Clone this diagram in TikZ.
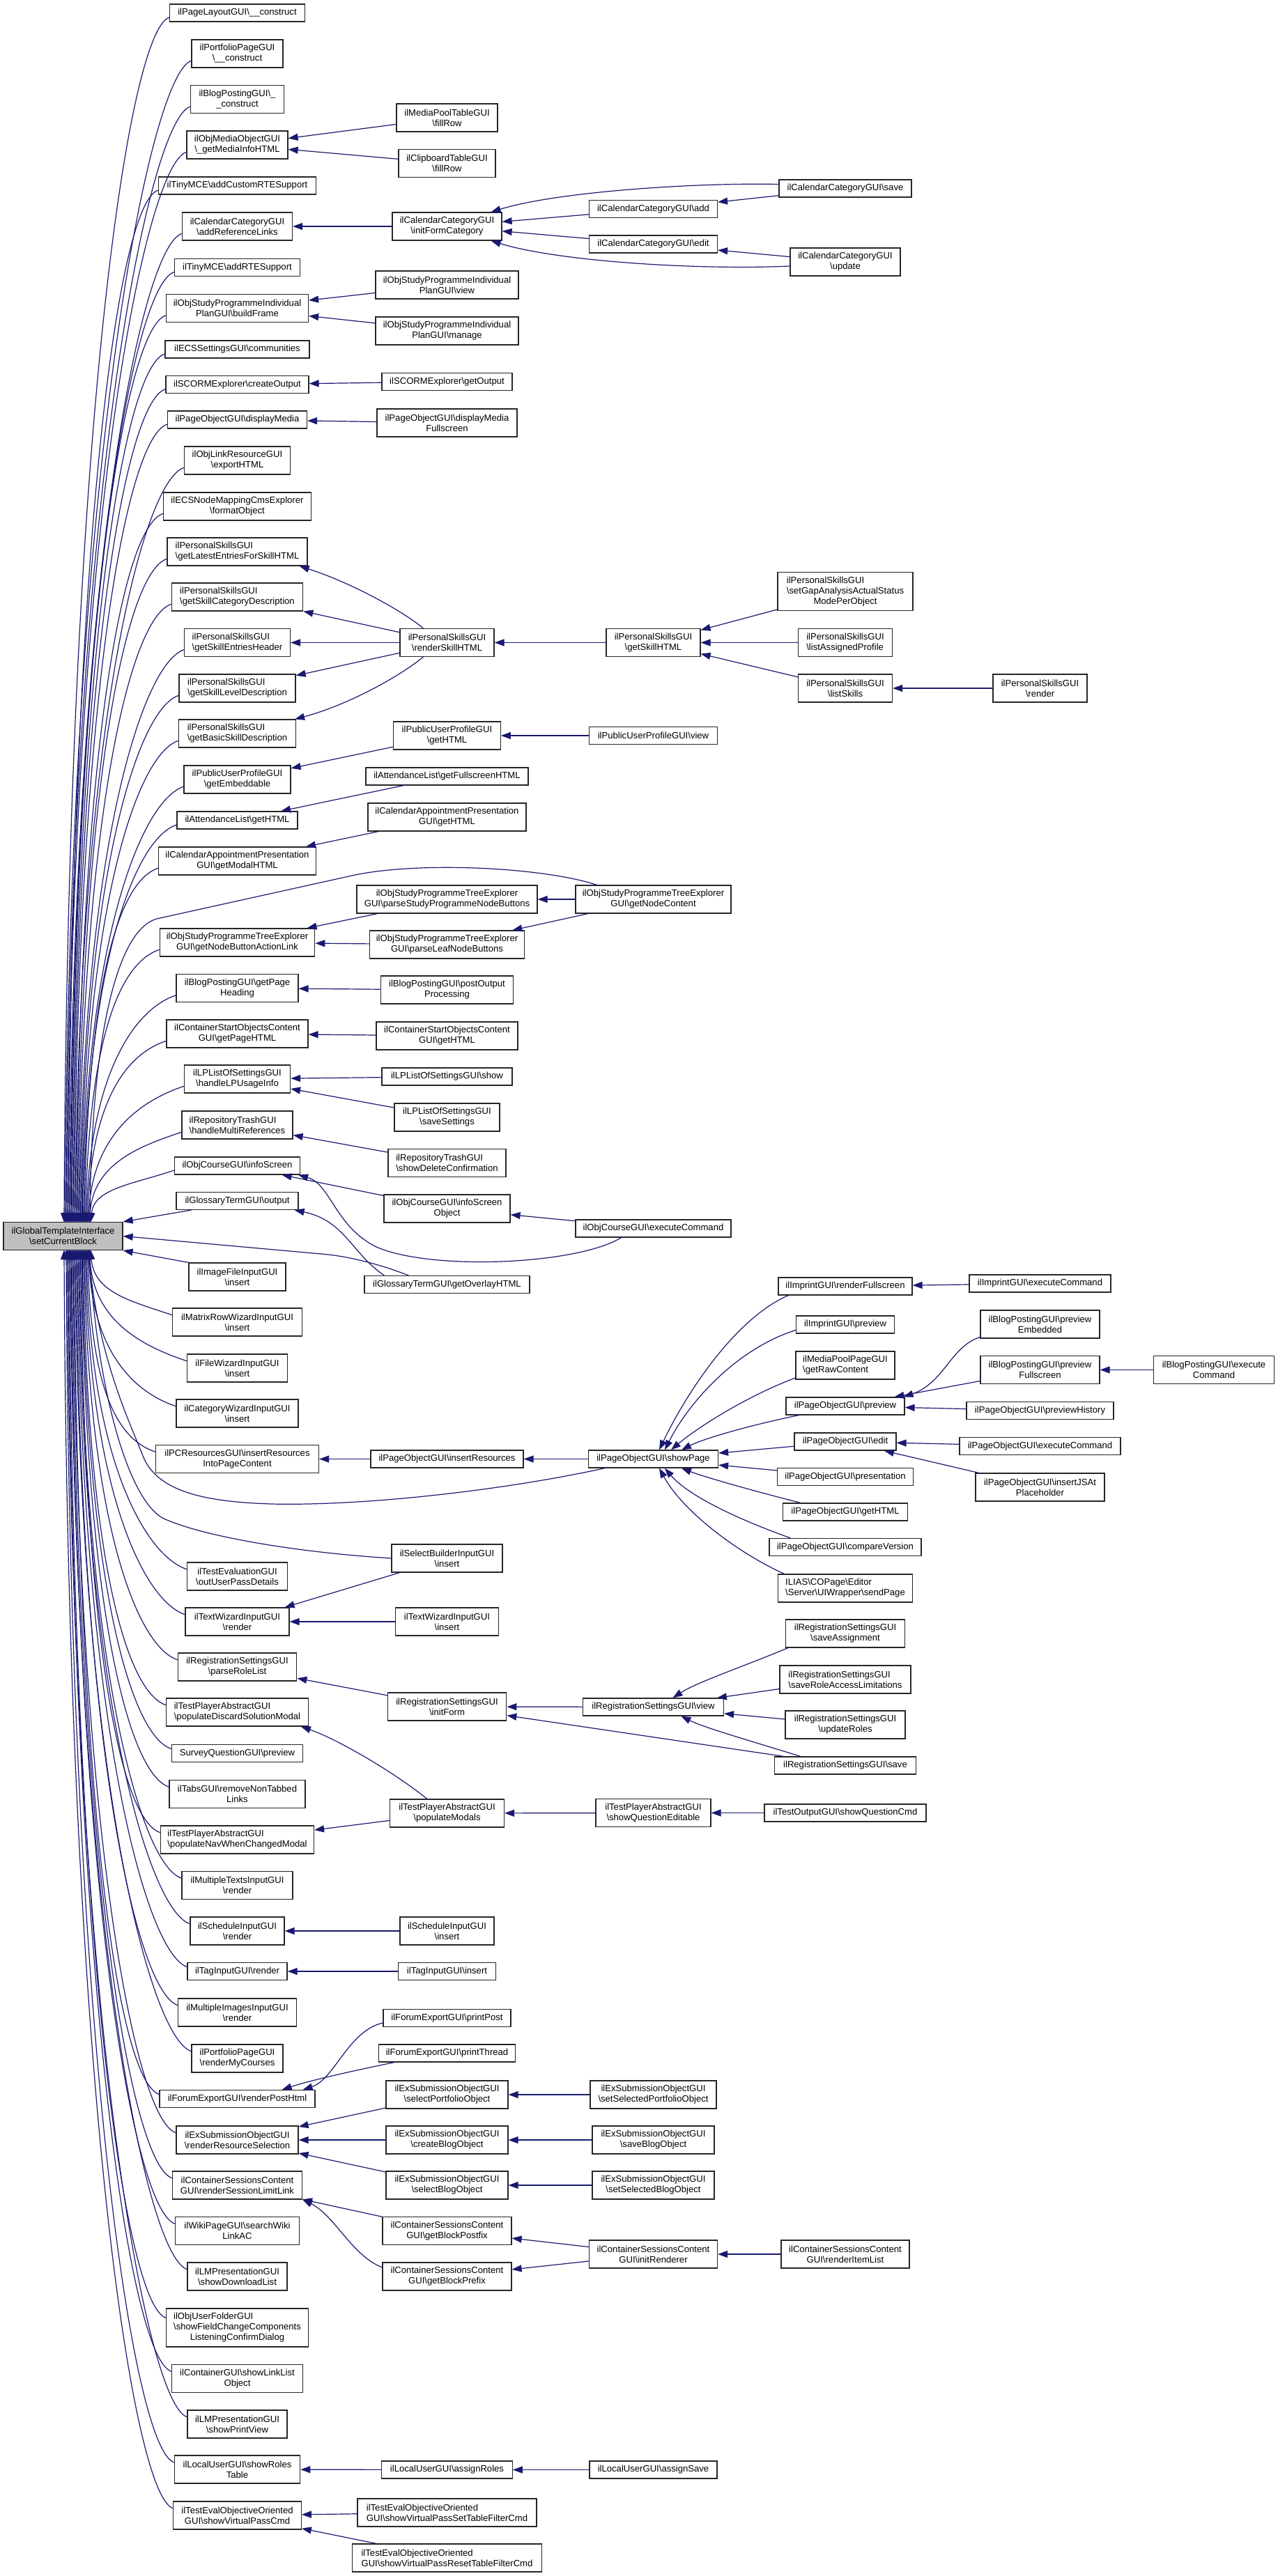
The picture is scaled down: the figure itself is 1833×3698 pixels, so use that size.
\documentclass[tikz,border=0pt]{standalone}
\usepackage{fontspec}
\setmainfont{Liberation Sans}
\usetikzlibrary{arrows.meta,calc}
\newcommand{\bs}{\textbackslash}
\newcommand{\fnfont}{\fontsize{13.1}{15}\selectfont}
\begin{document}
\begin{tikzpicture}[x=1pt,y=-1pt,
  fn/.style={draw=black!85, fill=white, line width=1.2pt, inner sep=1pt, font=\fnfont, align=center, minimum height=40},
  one/.style={fn, minimum height=25},
  three/.style={fn, minimum height=55},
  lal/.style={align=left},
  calls/.style={draw=edgeBlue, line width=1.2pt, -{Triangle[length=14pt,width=10pt]}}]
% Colors define
\definecolor{edgeBlue}{HTML}{191970}
\definecolor{rootGray}{HTML}{BFBFBF}

\useasboundingbox (0,0) rectangle (1833,3698);

% The function itself
\node[fn, fill=rootGray, minimum width=171] (root) at (90.5,1774.5) {ilGlobalTemplateInterface\\\bs setCurrentBlock};

% Direct callers
\node[one, minimum width=194] (plc) at (340.5,18.5) {ilPageLayoutGUI\bs\_\_construct};
\node[fn, minimum width=131] (ppc) at (340.5,77) {ilPortfolioPageGUI\\\bs\_\_construct};
\node[fn, minimum width=134] (bpc) at (340.5,142.75) {ilBlogPostingGUI\bs\_\\\_construct};
\node[fn, minimum width=145] (mo) at (340.5,208) {ilObjMediaObjectGUI\\\bs\_getMediaInfoHTML};
\node[one, minimum width=226] (tcr) at (340.5,266.5) {ilTinyMCE\bs addCustomRTESupport};
\node[fn, minimum width=158] (arl) at (340.5,325) {ilCalendarCategoryGUI\\\bs addReferenceLinks};
\node[one, minimum width=180] (trs) at (340.5,384) {ilTinyMCE\bs addRTESupport};
\node[fn, minimum width=204] (bf) at (340.5,442.5) {ilObjStudyProgrammeIndividual\\PlanGUI\bs buildFrame};
\node[one, minimum width=207] (ecs) at (340.5,501.5) {ilECSSettingsGUI\bs communities};
\node[one, minimum width=205] (sco) at (340.5,552) {ilSCORMExplorer\bs createOutput};
\node[one, minimum width=200] (dm) at (340.5,602.5) {ilPageObjectGUI\bs displayMedia};
\node[fn, minimum width=152] (lr) at (340.5,661) {ilObjLinkResourceGUI\\\bs exportHTML};
\node[fn, minimum width=212] (fo) at (340.5,727) {ilECSNodeMappingCmsExplorer\\\bs formatObject};
\node[fn, lal, minimum width=201] (gl) at (340.5,792) {ilPersonalSkillsGUI\\\bs getLatestEntriesForSkillHTML};
\node[fn, lal, minimum width=188.5] (scd) at (340.5,857) {ilPersonalSkillsGUI\\\bs getSkillCategoryDescription};
\node[fn, lal, minimum width=152] (seh) at (340.5,922.5) {ilPersonalSkillsGUI\\\bs getSkillEntriesHeader};
\node[fn, lal, minimum width=167] (sld) at (340.5,988) {ilPersonalSkillsGUI\\\bs getSkillLevelDescription};
\node[fn, lal, minimum width=168] (bsd) at (340.5,1053) {ilPersonalSkillsGUI\\\bs getBasicSkillDescription};
\node[fn, minimum width=153] (emb) at (340.5,1119) {ilPublicUserProfileGUI\\\bs getEmbeddable};
\node[one, minimum width=173] (alh) at (340.5,1177.5) {ilAttendanceList\bs getHTML};
\node[fn, minimum width=226] (gmh) at (340.5,1236) {ilCalendarAppointmentPresentation\\GUI\bs getModalHTML};
\node[fn, minimum width=222.5] (nba) at (340.5,1353) {ilObjStudyProgrammeTreeExplorer\\GUI\bs getNodeButtonActionLink};
\node[fn, minimum width=175] (gph) at (340.5,1418.5) {ilBlogPostingGUI\bs getPage\\Heading};
\node[fn, minimum width=203] (sph) at (340.5,1484) {ilContainerStartObjectsContent\\GUI\bs getPageHTML};
\node[fn, minimum width=152] (lpu) at (340.5,1549) {ilLPListOfSettingsGUI\\\bs handleLPUsageInfo};
\node[fn, lal, minimum width=159] (hmr) at (340.5,1615) {ilRepositoryTrashGUI\\\bs handleMultiReferences};
\node[one, minimum width=180] (isc) at (340.5,1673.5) {ilObjCourseGUI\bs infoScreen};
\node[one, minimum width=175] (gto) at (340.5,1724) {ilGlossaryTermGUI\bs output};
\node[fn, minimum width=139] (ifi) at (340.5,1833) {ilImageFileInputGUI\\\bs insert};
\node[fn, minimum width=186] (mrw) at (340.5,1898) {ilMatrixRowWizardInputGUI\\\bs insert};
\node[fn, minimum width=144] (fwi) at (340.5,1964) {ilFileWizardInputGUI\\\bs insert};
\node[fn, minimum width=175] (cwi) at (340.5,2029) {ilCategoryWizardInputGUI\\\bs insert};
\node[fn, minimum width=234] (pcr) at (340.5,2094.5) {ilPCResourcesGUI\bs insertResources\\IntoPageContent};
\node[fn, minimum width=144] (oup) at (340.5,2263) {ilTestEvaluationGUI\\\bs outUserPassDetails};
\node[fn, minimum width=149] (twr) at (340.5,2328) {ilTextWizardInputGUI\\\bs render};
\node[fn, minimum width=170.5] (prl) at (340.5,2393) {ilRegistrationSettingsGUI\\\bs parseRoleList};
\node[fn, lal, minimum width=203.5] (pdsm) at (340.5,2458) {ilTestPlayerAbstractGUI\\\bs populateDiscardSolutionModal};
\node[one, minimum width=188.5] (sqp) at (340.5,2517) {SurveyQuestionGUI\bs preview};
\node[fn, minimum width=195] (rnt) at (340.5,2575.5) {ilTabsGUI\bs removeNonTabbed\\Links};
\node[fn, lal, minimum width=220] (pnw) at (340.5,2641) {ilTestPlayerAbstractGUI\\\bs populateNavWhenChangedModal};
\node[fn, minimum width=159] (mtr) at (340.5,2706.5) {ilMultipleTextsInputGUI\\\bs render};
\node[fn, minimum width=135] (sir) at (340.5,2772) {ilScheduleInputGUI\\\bs render};
\node[one, minimum width=143] (tir) at (340.5,2830) {ilTagInputGUI\bs render};
\node[fn, minimum width=169.5] (mir) at (340.5,2889) {ilMultipleImagesInputGUI\\\bs render};
\node[fn, minimum width=131] (rmc) at (340.5,2955) {ilPortfolioPageGUI\\\bs renderMyCourses};
\node[one, minimum width=223] (rph) at (340.5,3013) {ilForumExportGUI\bs renderPostHtml};
\node[fn, minimum width=175] (rrs) at (340.5,3072) {ilExSubmissionObjectGUI\\\bs renderResourceSelection};
\node[fn, minimum width=186] (rsl) at (340.5,3137) {ilContainerSessionsContent\\GUI\bs renderSessionLimitLink};
\node[fn, minimum width=178] (swl) at (340.5,3202.5) {ilWikiPageGUI\bs searchWiki\\LinkAC};
\node[fn, minimum width=143] (sdl) at (340.5,3268) {ilLMPresentationGUI\\\bs showDownloadList};
\node[three, lal, minimum width=203.5] (sfc) at (340.5,3341.5) {ilObjUserFolderGUI\\\bs showFieldChangeComponents\\\hspace*{\fill}ListeningConfirmDialog\hspace*{\fill}};
\node[fn, minimum width=188.5] (sll) at (340.5,3414.5) {ilContainerGUI\bs showLinkList\\Object};
\node[fn, minimum width=143] (lpv) at (340.5,3480) {ilLMPresentationGUI\\\bs showPrintView};
\node[fn, minimum width=180.5] (srt) at (340.5,3545) {ilLocalUserGUI\bs showRoles\\Table};
\node[fn, minimum width=183.5] (svp) at (340.5,3611) {ilTestEvalObjectiveOriented\\GUI\bs showVirtualPassCmd};

% Callers further out
\node[fn, minimum width=145] (mpf) at (641.5,169) {ilMediaPoolTableGUI\\\bs fillRow};
\node[fn, minimum width=139] (cbf) at (641.5,234.5) {ilClipboardTableGUI\\\bs fillRow};
\node[fn, minimum width=157] (ifc) at (641.5,325) {ilCalendarCategoryGUI\\\bs initFormCategory};
\node[one, minimum width=184] (cca) at (937.5,300) {ilCalendarCategoryGUI\bs add};
\node[one, minimum width=184] (cce) at (937.5,350.5) {ilCalendarCategoryGUI\bs edit};
\node[one, minimum width=190] (ccs) at (1213,270.5) {ilCalendarCategoryGUI\bs save};
\node[fn, minimum width=158] (ccu) at (1213,376) {ilCalendarCategoryGUI\\\bs update};
\node[fn, minimum width=205] (ipv) at (641.5,409) {ilObjStudyProgrammeIndividual\\PlanGUI\bs view};
\node[fn, minimum width=205] (ipm) at (641.5,475) {ilObjStudyProgrammeIndividual\\PlanGUI\bs manage};
\node[one, minimum width=187] (sgo) at (641.5,548) {ilSCORMExplorer\bs getOutput};
\node[fn, minimum width=201] (dmf) at (641.5,607) {ilPageObjectGUI\bs displayMedia\\Fullscreen};
\node[fn, minimum width=135] (rsh) at (641.5,922.5) {ilPersonalSkillsGUI\\\bs renderSkillHTML};
\node[fn, minimum width=135] (gsh) at (937.5,922.5) {ilPersonalSkillsGUI\\\bs getSkillHTML};
\node[three, lal, minimum width=194] (sga) at (1213,849) {ilPersonalSkillsGUI\\\bs setGapAnalysisActualStatus\\\hspace*{\fill}ModePerObject\hspace*{\fill}};
\node[fn, lal, minimum width=135] (lap) at (1213,922.5) {ilPersonalSkillsGUI\\\bs listAssignedProfile};
\node[fn, minimum width=135] (lsk) at (1213,988) {ilPersonalSkillsGUI\\\bs listSkills};
\node[fn, minimum width=135] (psr) at (1492.5,988) {ilPersonalSkillsGUI\\\bs render};
\node[fn, minimum width=153.5] (pgh) at (641.5,1056) {ilPublicUserProfileGUI\\\bs getHTML};
\node[one, minimum width=184] (puv) at (937.5,1056) {ilPublicUserProfileGUI\bs view};
\node[one, minimum width=233] (afh) at (641.5,1114.5) {ilAttendanceList\bs getFullscreenHTML};
\node[fn, minimum width=227] (cgh) at (641.5,1173) {ilCalendarAppointmentPresentation\\GUI\bs getHTML};
\node[fn, minimum width=259] (psb) at (641.5,1291) {ilObjStudyProgrammeTreeExplorer\\GUI\bs parseStudyProgrammeNodeButtons};
\node[fn, minimum width=222] (plb) at (641.5,1356) {ilObjStudyProgrammeTreeExplorer\\GUI\bs parseLeafNodeButtons};
\node[fn, minimum width=223] (gnc) at (937.5,1291) {ilObjStudyProgrammeTreeExplorer\\GUI\bs getNodeContent};
\node[fn, minimum width=190.5] (pop) at (641.5,1421) {ilBlogPostingGUI\bs postOutput\\Processing};
\node[fn, minimum width=203] (csh) at (641.5,1487) {ilContainerStartObjectsContent\\GUI\bs getHTML};
\node[one, minimum width=187] (lps) at (641.5,1545.5) {ilLPListOfSettingsGUI\bs show};
\node[fn, minimum width=151] (lss) at (641.5,1604) {ilLPListOfSettingsGUI\\\bs saveSettings};
\node[fn, lal, minimum width=169] (sdc) at (641.5,1669.5) {ilRepositoryTrashGUI\\\bs showDeleteConfirmation};
\node[fn, minimum width=181] (iso) at (641.5,1735) {ilObjCourseGUI\bs infoScreen\\Object};
\node[one, minimum width=223] (oce) at (937.5,1763.5) {ilObjCourseGUI\bs executeCommand};
\node[one, minimum width=237] (goh) at (641.5,1844) {ilGlossaryTermGUI\bs getOverlayHTML};

% Page object group
\node[one, minimum width=219] (pir) at (641.5,2094.5) {ilPageObjectGUI\bs insertResources};
\node[one, minimum width=186] (psp) at (937.5,2094.5) {ilPageObjectGUI\bs showPage};
\node[one, minimum width=192] (irf) at (1213,1846.5) {ilImprintGUI\bs renderFullscreen};
\node[one, minimum width=203] (iec) at (1492.5,1842.5) {ilImprintGUI\bs executeCommand};
\node[one, minimum width=141] (ipr) at (1213,1901.5) {ilImprintGUI\bs preview};
\node[fn, lal, minimum width=142] (mrc) at (1213,1960) {ilMediaPoolPageGUI\\\bs getRawContent};
\node[fn, minimum width=171] (bpe) at (1492.5,1901) {ilBlogPostingGUI\bs preview\\Embedded};
\node[fn, minimum width=171] (bpf) at (1492.5,1966.5) {ilBlogPostingGUI\bs preview\\Fullscreen};
\node[fn, minimum width=172.5] (bec) at (1742,1966.5) {ilBlogPostingGUI\bs execute\\Command};
\node[one, minimum width=170] (pov) at (1213,2018.5) {ilPageObjectGUI\bs preview};
\node[one, minimum width=211] (poh) at (1492.5,2025) {ilPageObjectGUI\bs previewHistory};
\node[one, minimum width=146] (poe) at (1213,2069.5) {ilPageObjectGUI\bs edit};
\node[one, minimum width=231] (pec) at (1492.5,2076) {ilPageObjectGUI\bs executeCommand};
\node[fn, minimum width=185] (pjs) at (1492.5,2135) {ilPageObjectGUI\bs insertJSAt\\Placeholder};
\node[one, minimum width=195] (pps) at (1213,2120) {ilPageObjectGUI\bs presentation};
\node[one, minimum width=179] (pgt) at (1213,2170.5) {ilPageObjectGUI\bs getHTML};
\node[one, minimum width=218] (pcv) at (1213,2221) {ilPageObjectGUI\bs compareVersion};
\node[fn, lal, minimum width=193.5] (usp) at (1213,2280) {ILIAS\bs COPage\bs Editor\\\bs Server\bs UIWrapper\bs sendPage};

% Lower groups
\node[fn, minimum width=159] (sbi) at (641.5,2237) {ilSelectBuilderInputGUI\\\bs insert};
\node[fn, minimum width=148] (twi) at (641.5,2328) {ilTextWizardInputGUI\\\bs insert};
\node[fn, minimum width=170.5] (rif) at (641.5,2450) {ilRegistrationSettingsGUI\\\bs initForm};
\node[one, minimum width=202] (rsv) at (937.5,2450.5) {ilRegistrationSettingsGUI\bs view};
\node[fn, minimum width=171] (rsa) at (1213,2345) {ilRegistrationSettingsGUI\\\bs saveAssignment};
\node[fn, lal, minimum width=188] (rra) at (1213,2411) {ilRegistrationSettingsGUI\\\bs saveRoleAccessLimitations};
\node[fn, minimum width=172] (rur) at (1213,2476) {ilRegistrationSettingsGUI\\\bs updateRoles};
\node[one, minimum width=203] (rss) at (1213,2534.5) {ilRegistrationSettingsGUI\bs save};
\node[fn, minimum width=164] (tpm) at (641.5,2603) {ilTestPlayerAbstractGUI\\\bs populateModals};
\node[fn, minimum width=165] (tqe) at (937.5,2602.5) {ilTestPlayerAbstractGUI\\\bs showQuestionEditable};
\node[one, minimum width=232] (tqc) at (1213,2602.5) {ilTestOutputGUI\bs showQuestionCmd};
\node[fn, minimum width=135] (sii) at (641.5,2772) {ilScheduleInputGUI\\\bs insert};
\node[one, minimum width=139.5] (tii) at (641.5,2830) {ilTagInputGUI\bs insert};
\node[one, minimum width=183] (fpp) at (641.5,2897) {ilForumExportGUI\bs printPost};
\node[one, minimum width=196] (fpt) at (641.5,2947.5) {ilForumExportGUI\bs printThread};
\node[fn, minimum width=175] (spo) at (641.5,3007) {ilExSubmissionObjectGUI\\\bs selectPortfolioObject};
\node[fn, minimum width=181] (ssp) at (937.5,3007) {ilExSubmissionObjectGUI\\\bs setSelectedPortfolioObject};
\node[fn, minimum width=175] (cbo) at (641.5,3072) {ilExSubmissionObjectGUI\\\bs createBlogObject};
\node[fn, minimum width=175] (sbo) at (937.5,3072) {ilExSubmissionObjectGUI\\\bs saveBlogObject};
\node[fn, minimum width=175] (sbl) at (641.5,3137) {ilExSubmissionObjectGUI\\\bs selectBlogObject};
\node[fn, minimum width=175] (ssb) at (937.5,3137) {ilExSubmissionObjectGUI\\\bs setSelectedBlogObject};
\node[fn, minimum width=185] (gbp) at (641.5,3202.5) {ilContainerSessionsContent\\GUI\bs getBlockPostfix};
\node[fn, minimum width=185] (gbx) at (641.5,3268) {ilContainerSessionsContent\\GUI\bs getBlockPrefix};
\node[fn, minimum width=184] (cir) at (937.5,3236) {ilContainerSessionsContent\\GUI\bs initRenderer};
\node[fn, minimum width=184] (ril) at (1213,3236) {ilContainerSessionsContent\\GUI\bs renderItemList};
\node[one, minimum width=187.5] (lar) at (641.5,3545.5) {ilLocalUserGUI\bs assignRoles};
\node[one, minimum width=183] (las) at (937.5,3545.5) {ilLocalUserGUI\bs assignSave};
\node[fn, lal, minimum width=257] (vps) at (641.5,3607) {ilTestEvalObjectiveOriented\\GUI\bs showVirtualPassSetTableFilterCmd};
\node[fn, lal, minimum width=272.6] (vpr) at (641.5,3672) {ilTestEvalObjectiveOriented\\GUI\bs showVirtualPassResetTableFilterCmd};

% Callers above the function
\foreach \n/\xe/\ys in {plc/92/25, ppc/93.5/87, bpc/95/153, mo/96.5/218, tcr/98/273, arl/99.5/335,
    trs/101/390, bf/102/452.5, ecs/103.5/508, sco/105/558, dm/106.5/609, lr/108/671, fo/109.5/737,
    gl/111/802, scd/112.5/867, seh/114/932.5, sld/115.5/998, bsd/117/1063, emb/118/1129,
    alh/119.5/1184, gmh/121/1246, nba/122.5/1363, gph/124/1428.5, sph/125.5/1494, lpu/127/1559,
    hmr/128.5/1625, isc/130/1680}
  \draw[calls] ($(\n.west)!.5!(\n.south west)$) .. controls +(-60,20) and ({\xe+5},{\ys+0.35*(1755-\ys)}) .. (\xe,1755);

% Callers below the function
\foreach \n/\xe/\ys in {mrw/130/1888, fwi/128.5/1954, cwi/127/2019, pcr/125.5/2084.5, oup/124/2253,
    twr/122.5/2318, prl/121/2383, pdsm/119.5/2448, sqp/118/2511, rnt/117/2565.5, pnw/115.5/2631,
    mtr/114/2696.5, sir/112.5/2762, tir/111/2824, mir/109.5/2879, rmc/108/2945, rph/106.5/3007,
    rrs/105/3062, rsl/103.5/3127, swl/102/3192.5, sdl/101/3258, sfc/99.5/3328, sll/98/3404.5,
    lpv/96.5/3470, srt/95/3535, svp/92/3601}
  \draw[calls] ($(\n.west)!.5!(\n.north west)$) .. controls +(-60,-20) and ({\xe+5},{\ys-0.35*(\ys-1794)}) .. (\xe,1794);

\draw[calls] ($(gto.south west)+(22,0)$) -- (root.north east);
\draw[calls] (ifi.north west) -- (root.south east);

% Long ones into the function
\draw[calls] ($(gnc.north west)+(31,0)$) .. controls (780,1245) and (600,1236) .. (505,1257) -- (225,1319) .. controls (165,1336) and (131,1500) .. (129,1755);
\draw[calls] ($(goh.north west)+(64,0)$) .. controls (545,1815) and (500,1803) .. (460,1800) -- (root.east);
\draw[calls] ($(psp.south west)+(24,0)$) .. controls (720,2140) and (520,2162) .. (390,2159) .. controls (290,2156) and (225,2140) .. (205,2090) .. controls (190,2050) and (140,1950) .. (127,1794);
\draw[calls] (sbi.west) .. controls (420,2228) and (290,2205) .. (235,2180) .. controls (185,2155) and (140,2000) .. (128,1794);

% Straight calls
\foreach \a/\b in {mpf/mo, cbf/mo, ifc/arl, cca/ifc, cce/ifc, ccs/cca, ccu/cce, ipv/bf, ipm/bf,
    sgo/sco, dmf/dm, rsh/scd, rsh/seh, rsh/sld, gsh/rsh, sga/gsh, lap/gsh, lsk/gsh, psr/lsk,
    pgh/emb, puv/pgh, afh/alh, cgh/gmh, psb/nba, plb/nba, gnc/psb, gnc/plb, pop/gph, csh/sph,
    lps/lpu, lss/lpu, sdc/hmr, iso/isc, oce/iso, pir/pcr, psp/pir, poe/psp, pps/psp, iec/irf,
    bpf/pov, bec/bpf, poh/pov, pec/poe, pjs/poe, sbi/twr, twi/twr, rif/prl, rsv/rif, rss/rif,
    rra/rsv, rur/rsv, tpm/pnw, tqe/tpm, tqc/tqe, sii/sir, tii/tir, ssp/spo, spo/rrs, cbo/rrs,
    sbl/rrs, sbo/cbo, ssb/sbl, gbp/rsl, cir/gbp, cir/gbx, ril/cir, lar/srt, las/lar, vps/svp, vpr/svp}
  \draw[calls] (\a) -- (\b);

% Curved calls
\draw[calls] ($(ccs.west)+(0,-6)$) .. controls (1000,262) and (800,275) .. ($(ifc.north east)+(-16,0)$);
\draw[calls] ($(ccu.west)+(0,6)$) .. controls (1000,388) and (800,375) .. ($(ifc.south east)+(-16,0)$);
\draw[calls] ($(rsh.north west)+(34,0)$) .. controls (575,875) and (500,835) .. ($(gl.south east)+(-12,0)$);
\draw[calls] ($(rsh.south west)+(34,0)$) .. controls (575,970) and (500,1012) .. ($(bsd.north east)+(-2,0)$);
\draw[calls] ($(oce.south west)+(66,0)$) .. controls (830,1815) and (620,1825) .. (540,1790) .. controls (480,1760) and (475,1700) .. ($(isc.south east)+(-3,0)$);
\draw[calls] ($(goh.north west)+(29,0)$) .. controls (505,1800) and (495,1752) .. ($(gto.south east)+(-6,0)$);
\draw[calls] ($(irf.south west)+(15,0)$) .. controls (1060,1890) and (990,1990) .. ($(psp.north)+(8.5,0)$);
\draw[calls] ($(ipr.west)+(0,8)$) .. controls (1060,1935) and (990,2010) .. ($(psp.north)+(16.5,0)$);
\draw[calls] ($(mrc.west)+(0,18)$) .. controls (1070,2005) and (1000,2050) .. ($(psp.north)+(25.5,0)$);
\draw[calls] ($(pov.south west)+(19,0)$) .. controls (1080,2045) and (1010,2065) .. ($(psp.north)+(40.5,0)$);
\draw[calls] ($(pgt.north west)+(26,0)$) .. controls (1080,2140) and (1010,2120) .. ($(psp.south)+(40.5,0)$);
\draw[calls] ($(pcv.north west)+(31,0)$) .. controls (1070,2185) and (990,2150) .. ($(psp.south)+(16.5,0)$);
\draw[calls] ($(usp.north west)+(10,0)$) .. controls (1060,2230) and (980,2170) .. ($(psp.south)+(8.5,0)$);
\draw[calls] ($(bpe.south west)+(0,-2)$) .. controls (1365,1932) and (1355,1985) .. ($(pov.north east)+(-2,0)$);
\draw[calls] ($(rsa.south west)+(4,0)$) .. controls (1060,2395) and (1000,2415) .. ($(rsv.north)+(28,0)$);
\draw[calls] ($(rss.north west)+(38,0)$) .. controls (1080,2500) and (1010,2480) .. ($(rsv.south)+(40,0)$);
\draw[calls] ($(tpm.north west)+(54,0)$) .. controls (560,2540) and (480,2495) .. ($(pdsm.south east)+(-11,0)$);
\draw[calls] ($(fpp.west)+(0,7)$) .. controls (500,2915) and (480,2985) .. ($(rph.north east)+(-18,0)$);
\draw[calls] ($(fpt.south west)+(23,0)$) .. controls (520,2970) and (450,2985) .. ($(rph.north east)+(-48,0)$);
\draw[calls] ($(gbx.west)+(0,-13)$) .. controls (505,3238) and (480,3180) .. (rsl.south east);
\end{tikzpicture}
\end{document}
